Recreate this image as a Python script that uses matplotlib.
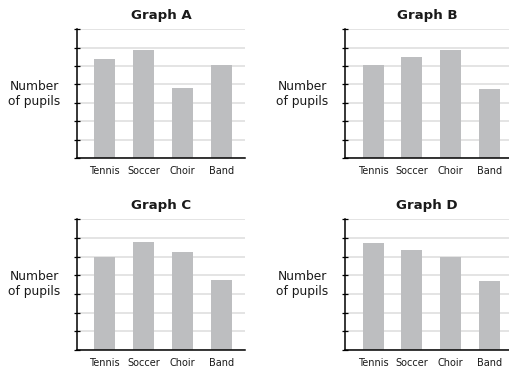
import matplotlib.pyplot as plt

# Data (units of grid lines)
activities = ["Tennis", "Soccer", "Choir", "Band"]
graph_a = [5.4, 5.9, 3.8, 5.05]
graph_b = [5.05, 5.5, 5.87, 3.75]
graph_c = [5.0, 5.8, 5.27, 3.76]
graph_d = [5.75, 5.37, 5.0, 3.71]
titles = ["Graph A", "Graph B", "Graph C", "Graph D"]
y_ticks = list(range(0, 8))

W, H = 509, 371
fig = plt.figure(figsize=(W / 100, H / 100), dpi=100)

# axes boxes in pixels: left, top, right, bottom
boxes = [
    (77, 29, 245, 158),
    (345, 29, 509, 158),
    (77, 219, 245, 350),
    (345, 219, 509, 350),
]
xlims = [(-0.71, 3.6), (-0.73, 3.51), (-0.71, 3.6), (-0.73, 3.51)]

bar_color = "#bdbec0"
grid_color = "#dcdcdc"
text_color = "#1a1a1a"

for vals, title, box, xl in zip([graph_a, graph_b, graph_c, graph_d], titles, boxes, xlims):
    l, t, r, b = box
    ax = fig.add_axes([l / W, 1 - b / H, (r - l) / W, (b - t) / H])
    x = range(len(activities))
    ax.bar(x, vals, width=0.54, color=bar_color, zorder=2)
    ax.set_xlim(*xl)
    ax.set_ylim(0, 7.02)
    ax.set_yticks(y_ticks)
    ax.set_yticklabels([])
    ax.set_xticks(list(x))
    ax.set_xticklabels(activities, fontsize=7, color=text_color)
    ax.tick_params(axis="x", length=0, pad=5.5)
    ax.tick_params(axis="y", direction="inout", length=4.3, width=0.9)
    ax.yaxis.grid(True, color=grid_color, linewidth=1.1, zorder=0)
    ax.set_axisbelow(True)
    for s in ["top", "right"]:
        ax.spines[s].set_visible(False)
    ax.spines["left"].set_linewidth(1.1)
    ax.spines["bottom"].set_linewidth(1.1)
    ax.set_title(title, fontsize=9.6, fontweight="bold", pad=7, color=text_color)
    ax.text(-43 / (r - l), 0.5, "Number\nof pupils", transform=ax.transAxes,
            ha="center", va="center", multialignment="center", fontsize=8.8,
            color=text_color, linespacing=1.2)

plt.savefig("out.png", dpi=100)
